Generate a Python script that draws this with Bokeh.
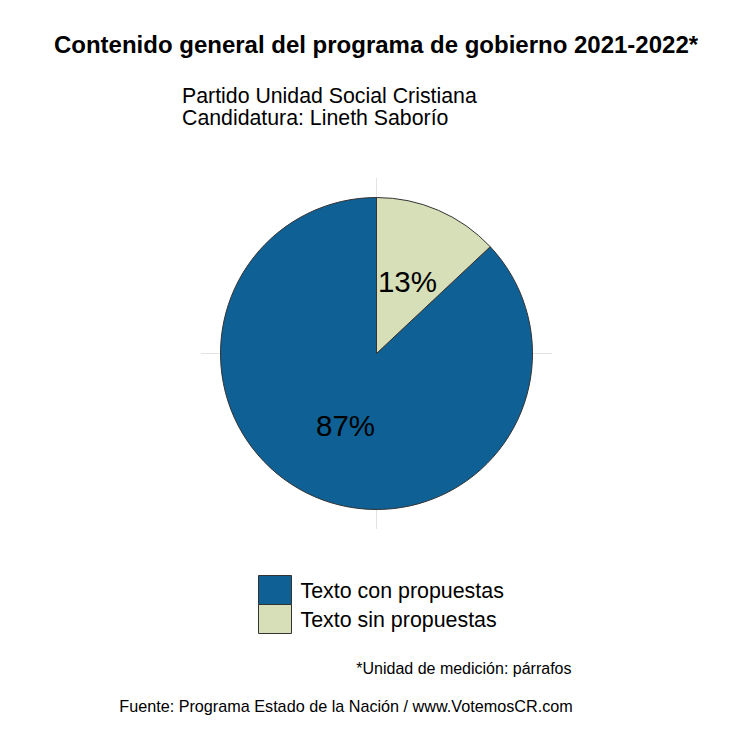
import math
from bokeh.plotting import figure
from bokeh.models import Range1d, Label, ColumnDataSource
from bokeh.embed import file_html
from bokeh.resources import INLINE
from bokeh.core.properties import value

# ---- data ----
categories = ["Texto con propuestas", "Texto sin propuestas"]
percentages = [87, 13]
colors = ["#0E6095", "#D6DFB8"]
title_text = "Contenido general del programa de gobierno 2021-2022*"
subtitle_lines = ["Partido Unidad Social Cristiana", "Candidatura: Lineth Saborío"]
note_text = "*Unidad de medición: párrafos"
source_text = "Fuente: Programa Estado de la Nación / www.VotemosCR.com"

# ---- layout ----
W, H = 734, 722
R_PX = 156            # pie radius in px
CX, CY = 376, 353     # pie centre, px from top-left of canvas
FONT = "Liberation Sans"


def sx(px):
    return px


def sy(py):
    return H - py


def dx(px):
    return (px - CX) / R_PX


def dy(py):
    return (CY - py) / R_PX


p = figure(width=W, height=H, output_backend="svg", toolbar_location=None,
           x_range=Range1d(-CX / R_PX, (W - CX) / R_PX),
           y_range=Range1d(-(H - CY) / R_PX, CY / R_PX),
           min_border=0, outline_line_color=None)
p.axis.visible = False
p.grid.visible = False
p.background_fill_color = "white"

# light panel grid lines (polar panel)
g = 1.125
p.segment(x0=[0, -g], y0=[-g, 0], x1=[0, g], y1=[g, 0],
          line_color="#E3E3E3", line_width=1)

# wedges, clockwise from 12 o'clock (last category first, like ggplot)
total = float(sum(percentages))
order = list(range(len(categories)))[::-1]
cum = 0.0
wedge_info = {}
for i in order:
    a = cum / total
    b = (cum + percentages[i]) / total
    cum += percentages[i]
    wedge_info[i] = (a, b)

for i in range(len(categories)):
    a, b = wedge_info[i]
    src = ColumnDataSource(dict(x=[0.0], y=[0.0],
                                start=[math.pi / 2 - 2 * math.pi * b],
                                end=[math.pi / 2 - 2 * math.pi * a]))
    p.wedge(x="x", y="y", radius=1.0, start_angle="start", end_angle="end",
            direction="anticlock", source=src,
            fill_color=colors[i], line_color="#333333", line_width=1)

# percentage labels at half radius, middle of each slice
lx, ly, lt = [], [], []
for i in range(len(categories)):
    a, b = wedge_info[i]
    m = (a + b) / 2
    lx.append(0.5 * math.sin(2 * math.pi * m))
    ly.append(0.5 * math.cos(2 * math.pi * m))
    lt.append(f"{percentages[i]}%")
p.text(x=lx, y=ly, text=lt, text_font=value(FONT), text_font_size="29.5px",
       text_align="center", text_baseline="middle", text_color="black")

# legend (drawn as keys + labels)
n = len(categories)
key_left, key_right, key_top, key_h = 258, 291, 575, 29
p.quad(left=[dx(key_left)] * n, right=[dx(key_right)] * n,
       top=[dy(key_top + key_h * k) for k in range(n)],
       bottom=[dy(key_top + key_h * (k + 1)) for k in range(n)],
       fill_color=colors, line_color="#333333", line_width=1)
p.text(x=[dx(300)] * n, y=[dy(key_top + key_h * k + key_h / 2 + 0.5) for k in range(n)],
       text=categories, text_font=value(FONT), text_font_size="21.4px",
       text_align="left", text_baseline="middle", text_color="black")

# texts
p.add_layout(Label(x=sx(375.5), y=sy(43.5), x_units="screen", y_units="screen", text=title_text,
                   text_font=FONT, text_font_size="24px", text_font_style="bold",
                   text_align="center", text_baseline="middle", text_color="black"))
for k, line in enumerate(subtitle_lines):
    p.add_layout(Label(x=sx(181.5), y=sy(95 + 22 * k), x_units="screen", y_units="screen",
                       text=line, text_font=FONT, text_font_size="21.3px",
                       text_align="left", text_baseline="middle", text_color="black"))
p.add_layout(Label(x=sx(571), y=sy(668), x_units="screen", y_units="screen", text=note_text,
                   text_font=FONT, text_font_size="16px",
                   text_align="right", text_baseline="middle", text_color="black"))
p.add_layout(Label(x=sx(345.5), y=sy(705), x_units="screen", y_units="screen", text=source_text,
                   text_font=FONT, text_font_size="16.2px",
                   text_align="center", text_baseline="middle", text_color="black"))

open("out.html", "w").write(file_html(p, INLINE))
